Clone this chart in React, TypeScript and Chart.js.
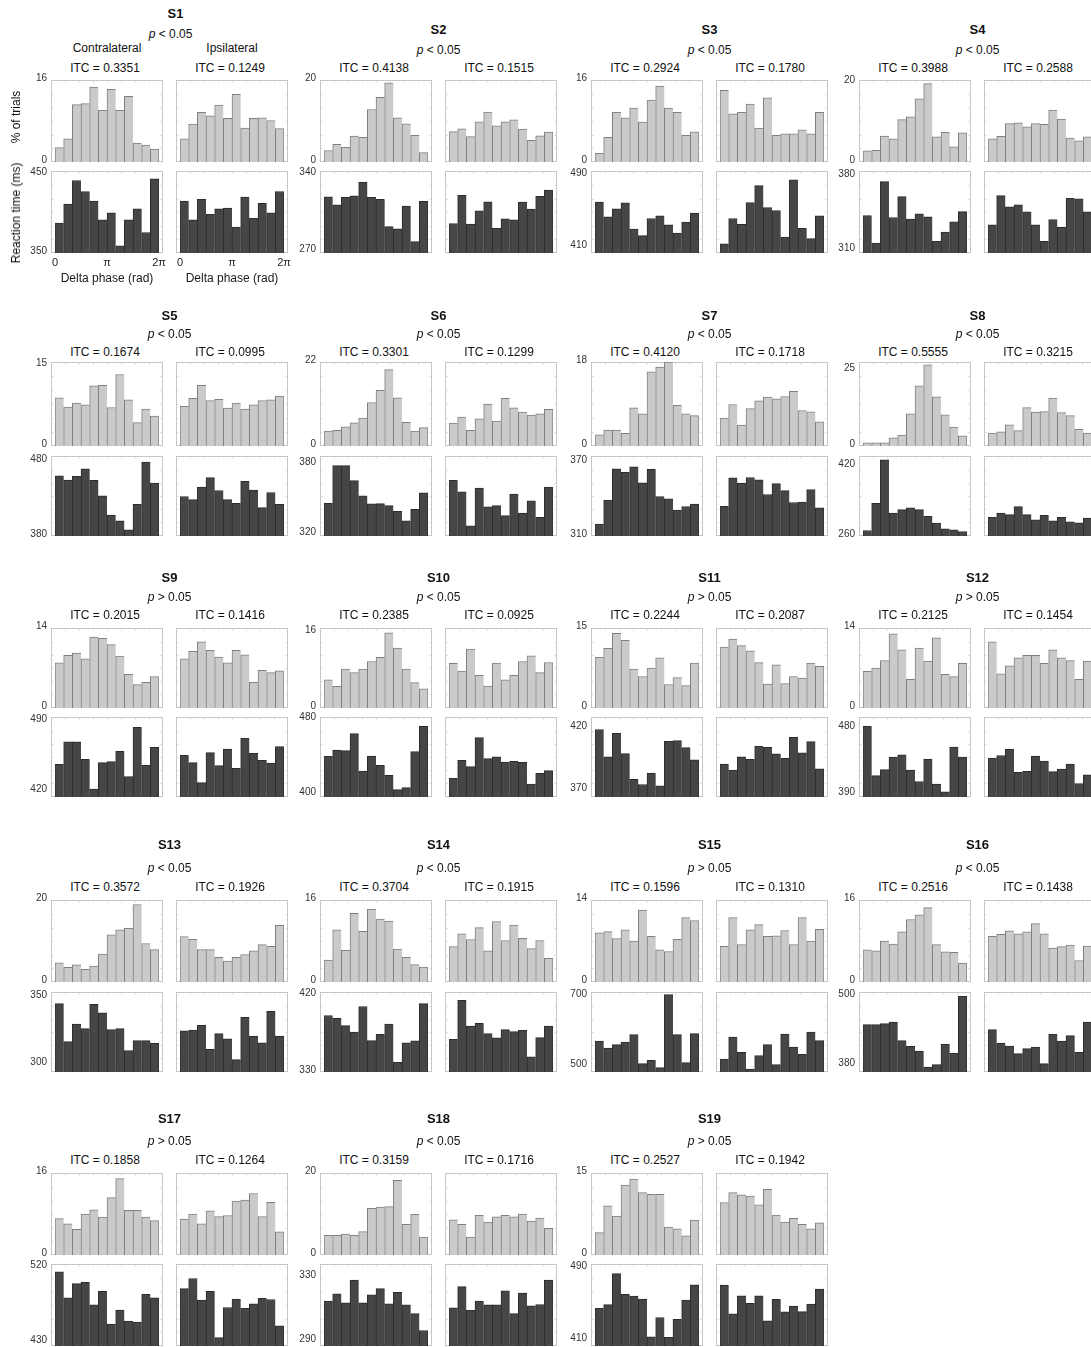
import React, { useEffect, useRef } from 'react';
import { Chart, registerables } from 'chart.js';

Chart.register(...registerables);

const FONT = '"Liberation Sans", Arial, Helvetica, sans-serif';
Chart.defaults.font.family = FONT;

// ---- data ----------------------------------------------------------------

// twelve equal delta-phase bins covering 0 .. 2π
const phaseBins = ['1', '2', '3', '4', '5', '6', '7', '8', '9', '10', '11', '12'];
const phaseTickLabels = ['0', 'π', '2π'];

const subjects = ['S1', 'S2', 'S3', 'S4', 'S5', 'S6', 'S7', 'S8', 'S9', 'S10',
  'S11', 'S12', 'S13', 'S14', 'S15', 'S16', 'S17', 'S18', 'S19'];

const pSigns = ['<', '<', '<', '<', '<', '<', '<', '<', '>', '<', '>', '>', '<', '<', '>', '<', '>', '<', '>'];

const itcContra = [0.3351, 0.4138, 0.2924, 0.3988, 0.1674, 0.3301, 0.4120, 0.5555, 0.2015, 0.2385,
  0.2244, 0.2125, 0.3572, 0.3704, 0.1596, 0.2516, 0.1858, 0.3159, 0.2527];
const itcIpsi = [0.1249, 0.1515, 0.1780, 0.2588, 0.0995, 0.1299, 0.1718, 0.3215, 0.1416, 0.0925,
  0.2087, 0.1454, 0.1926, 0.1915, 0.1310, 0.1438, 0.1264, 0.1716, 0.1942];

// % of trials axes: labelled maximum and top of the plotted range
const trialTickMax = [16, 20, 16, 20, 15, 22, 18, 25, 14, 16, 15, 14, 20, 16, 14, 16, 16, 20, 15];
const trialAxisMax = [16, 20, 16, 20.5, 15.5, 22, 18, 27.4, 14, 16.7, 15, 14, 20, 16, 14, 16, 16, 20, 15];

// reaction-time axes: labelled ticks and plotted range (ms)
const rtTickLow = [350, 270, 410, 310, 380, 320, 310, 260, 420, 400, 370, 390, 300, 330, 500, 380, 430, 290, 410];
const rtTickHigh = [450, 340, 490, 380, 480, 380, 370, 420, 490, 480, 420, 480, 350, 420, 700, 500, 520, 330, 490];
const rtAxisLow = [350, 268.2, 403, 306.5, 380, 317.7, 310, 260, 414.1, 396.1, 364.5, 385, 293.5, 330, 482.9, 366.5, 424.3, 287, 403.4];
const rtAxisHigh = [454, 342.7, 494, 384.1, 486.3, 387, 375, 441, 493.3, 481.4, 428.4, 494.4, 353.5, 422.7, 711.4, 507, 522.8, 338.2, 494.4];

// % of trials per phase bin, contralateral
const trialsContra = [
  [2.8, 4.5, 11.2, 11.4, 14.6, 10.1, 14.2, 10.1, 12.8, 3.7, 3.3, 2.5],
  [2.8, 4.3, 3.6, 6.3, 6.0, 12.8, 15.8, 19.3, 10.8, 9.3, 6.5, 2.3],
  [1.7, 4.8, 9.7, 8.6, 10.5, 7.8, 12.1, 14.8, 10.5, 9.7, 5.2, 5.9],
  [2.8, 2.9, 6.5, 5.8, 10.6, 11.3, 15.8, 19.6, 6.3, 7.4, 3.8, 7.3],
  [8.9, 7.2, 7.9, 7.6, 11.1, 11.2, 7.1, 13.2, 8.5, 4.3, 6.8, 5.5],
  [3.9, 4.1, 5.0, 6.1, 7.3, 11.4, 14.6, 20.0, 12.6, 6.2, 3.9, 4.8],
  [2.4, 3.4, 3.4, 2.7, 8.2, 6.9, 15.9, 16.9, 18.0, 8.7, 6.9, 6.5],
  [1.0, 1.0, 1.0, 2.7, 3.6, 10.5, 19.6, 26.5, 16.0, 10.2, 6.2, 3.3],
  [7.9, 9.2, 9.6, 8.6, 12.4, 12.2, 11.1, 9.1, 5.9, 4.1, 4.5, 5.5],
  [5.9, 4.5, 8.1, 7.4, 8.1, 9.7, 10.6, 15.7, 12.5, 8.1, 5.3, 4.0],
  [9.5, 11.2, 14.0, 12.7, 7.3, 5.9, 7.5, 9.4, 4.4, 5.7, 4.2, 8.4],
  [6.4, 7.0, 8.3, 13.0, 10.2, 5.0, 10.5, 8.2, 12.3, 5.9, 5.5, 7.8],
  [4.7, 3.6, 4.2, 3.1, 3.9, 6.8, 11.5, 12.7, 13.1, 18.9, 9.4, 7.9],
  [4.3, 10.2, 6.2, 13.4, 9.9, 14.2, 12.3, 11.9, 6.4, 4.8, 3.4, 2.9],
  [8.4, 8.6, 7.4, 8.9, 7.0, 12.3, 7.8, 5.5, 5.2, 7.3, 11.0, 10.5],
  [6.3, 6.1, 8.0, 7.4, 9.8, 12.2, 13.1, 14.5, 7.3, 5.9, 5.8, 3.7],
  [7.1, 6.1, 5.0, 8.0, 8.8, 7.4, 11.2, 14.9, 8.7, 8.7, 7.4, 6.7],
  [4.8, 4.8, 5.1, 4.8, 5.7, 11.4, 11.7, 11.8, 18.2, 7.5, 9.9, 4.4],
  [4.1, 9.0, 7.1, 12.8, 13.9, 11.4, 11.1, 11.1, 5.1, 4.8, 3.5, 6.4],
];

// % of trials per phase bin, ipsilateral
const trialsIpsi = [
  [4.5, 7.4, 9.7, 9.0, 11.1, 8.5, 13.2, 6.6, 8.5, 8.6, 8.1, 6.5],
  [7.4, 8.1, 6.2, 9.8, 12.2, 8.8, 9.8, 10.3, 8.0, 5.3, 6.4, 7.3],
  [14.0, 9.4, 9.7, 11.3, 6.6, 12.5, 5.2, 5.5, 5.5, 6.3, 5.5, 9.7],
  [5.8, 6.4, 9.6, 9.8, 8.8, 9.6, 9.4, 13.0, 10.7, 6.0, 5.3, 6.3],
  [7.3, 8.8, 11.2, 8.4, 8.6, 7.0, 7.9, 6.8, 7.6, 8.4, 8.5, 9.2],
  [6.0, 7.6, 4.1, 7.1, 11.0, 6.5, 12.5, 10.0, 8.9, 8.1, 8.4, 9.6],
  [6.0, 8.9, 4.5, 8.0, 9.7, 10.5, 10.1, 10.6, 11.7, 7.6, 7.3, 5.2],
  [4.2, 4.6, 6.9, 5.0, 12.5, 11.1, 11.2, 15.6, 10.9, 9.9, 5.4, 4.2],
  [8.6, 9.9, 11.6, 10.1, 8.9, 7.9, 10.1, 9.3, 4.5, 6.6, 6.2, 6.5],
  [9.3, 7.7, 12.3, 6.8, 4.6, 9.4, 5.9, 6.8, 9.7, 10.9, 7.4, 9.5],
  [11.4, 12.9, 11.7, 10.7, 8.5, 4.5, 8.1, 4.6, 5.9, 5.6, 8.4, 7.8],
  [11.6, 6.0, 7.4, 8.8, 9.2, 9.2, 7.8, 10.2, 8.8, 8.3, 5.0, 8.2],
  [11.1, 10.4, 7.9, 7.9, 6.0, 5.1, 6.0, 6.7, 7.6, 9.1, 8.7, 13.8],
  [6.9, 9.4, 8.3, 10.6, 6.1, 11.8, 8.1, 11.1, 8.5, 6.5, 8.1, 4.6],
  [6.1, 11.0, 6.4, 8.9, 9.8, 7.8, 7.9, 8.8, 6.4, 11.0, 7.0, 9.0],
  [8.9, 9.3, 10.0, 9.4, 9.8, 11.4, 9.4, 6.6, 6.9, 7.2, 4.2, 7.0],
  [7.0, 8.0, 6.1, 8.6, 7.5, 7.7, 10.5, 10.7, 12.0, 7.5, 10.3, 4.5],
  [8.6, 7.5, 4.4, 9.7, 8.0, 9.3, 9.7, 9.3, 10.0, 8.3, 9.0, 6.5],
  [9.6, 11.4, 11.0, 10.8, 9.2, 12.0, 7.3, 6.0, 6.7, 5.6, 4.8, 5.9],
];

// mean reaction time (ms) per phase bin, contralateral
const rtContra = [
  [388, 412, 442, 428, 416, 392, 401, 359, 392, 406, 376, 444],
  [319.3, 312.0, 318.7, 320.2, 332.7, 318.7, 316.9, 292.2, 290.1, 310.8, 278.5, 315.1],
  [459.4, 443.2, 452.0, 458.7, 429.5, 422.2, 441.3, 444.3, 434.3, 425.1, 437.3, 447.2],
  [342.0, 315.9, 374.0, 340.1, 359.9, 338.5, 343.5, 340.7, 317.5, 326.3, 336.0, 345.7],
  [459.8, 454.4, 459.4, 469.2, 454.0, 433.4, 407.8, 400.2, 388.1, 422.2, 478.2, 450.4],
  [346.1, 378.6, 378.6, 365.7, 352.5, 345.5, 345.8, 344.0, 339.1, 330.9, 340.8, 355.2],
  [319.6, 339.1, 364.5, 361.8, 366.1, 353.2, 364.2, 342.1, 340.2, 331.0, 334.0, 335.9],
  [272.4, 334.1, 432.4, 312.0, 319.7, 323.5, 319.7, 304.4, 289.2, 276.2, 274.0, 270.1],
  [446.4, 468.6, 468.6, 451.4, 422.0, 448.1, 449.1, 459.3, 434.2, 483.1, 445.5, 463.3],
  [439.5, 446.2, 445.5, 463.7, 423.8, 439.8, 429.9, 419.2, 403.9, 406.1, 444.5, 471.5],
  [418.4, 396.6, 415.3, 399.2, 378.7, 374.5, 383.7, 373.4, 409.0, 409.5, 404.0, 394.2],
  [481.8, 414.3, 422.4, 439.5, 442.6, 421.9, 406.2, 436.8, 402.6, 392.2, 453.4, 439.5],
  [344.8, 316.3, 329.5, 326.0, 344.3, 337.8, 325.3, 326.0, 309.5, 317.0, 317.0, 315.0],
  [395.5, 392.1, 383.7, 376.4, 405.9, 366.4, 373.7, 385.6, 341.1, 363.7, 366.0, 409.3],
  [571.5, 551.5, 561.0, 568.6, 589.6, 506.7, 516.2, 495.3, 703.8, 589.6, 509.6, 592.4],
  [449.6, 449.6, 451.4, 454.3, 421.5, 411.6, 403.4, 375.3, 379.4, 415.7, 399.3, 499.4],
  [513.5, 482.3, 499.3, 500.9, 473.8, 490.0, 450.6, 467.3, 454.3, 453.1, 486.3, 482.3],
  [315.0, 319.6, 314.0, 328.1, 314.0, 319.0, 322.8, 313.3, 320.5, 312.7, 307.2, 296.7],
  [445.2, 449.3, 483.8, 460.7, 458.8, 455.5, 413.7, 435.0, 413.0, 433.1, 454.4, 471.3],
];

// mean reaction time (ms) per phase bin, ipsilateral
const rtIpsi = [
  [416, 392, 418, 399, 406, 407, 383, 421, 394, 413, 401, 428],
  [295.0, 320.5, 294.4, 306.5, 314.8, 290.7, 299.2, 298.3, 314.5, 308.1, 319.6, 325.4],
  [413.3, 441.3, 434.7, 459.0, 477.8, 453.5, 450.2, 420.7, 484.1, 430.3, 418.9, 444.3],
  [333.2, 360.8, 350.1, 352.0, 345.4, 333.2, 317.5, 338.2, 331.0, 358.3, 357.7, 345.4],
  [432.5, 428.4, 445.0, 457.6, 440.5, 428.4, 423.5, 452.6, 441.0, 417.7, 437.8, 422.2],
  [366.0, 356.0, 326.5, 359.3, 342.9, 344.0, 335.3, 354.0, 337.6, 348.1, 333.8, 360.1],
  [334.2, 357.2, 352.9, 357.5, 355.6, 343.7, 352.6, 346.9, 337.2, 337.5, 347.8, 332.9],
  [302.1, 312.0, 308.2, 326.5, 308.2, 296.8, 306.7, 294.5, 302.1, 292.2, 290.0, 300.6],
  [455.4, 448.1, 428.3, 458.0, 445.1, 461.6, 442.5, 472.2, 457.3, 450.4, 447.8, 463.9],
  [416.0, 435.2, 428.5, 459.4, 437.0, 438.8, 433.4, 434.1, 433.1, 410.0, 421.3, 424.2],
  [390.8, 386.1, 396.6, 394.5, 405.0, 404.2, 399.0, 395.3, 412.1, 399.8, 408.7, 387.1],
  [438.1, 441.7, 450.3, 418.8, 420.1, 440.8, 434.0, 419.7, 423.3, 430.0, 403.5, 415.2],
  [324.3, 325.0, 328.5, 310.5, 322.3, 318.3, 302.8, 334.5, 320.5, 315.3, 339.0, 320.5],
  [368.0, 413.1, 383.3, 386.3, 374.5, 369.5, 379.1, 376.8, 378.3, 347.7, 369.9, 383.3],
  [520.0, 582.9, 539.1, 491.5, 529.6, 561.0, 503.9, 591.5, 554.3, 533.4, 597.2, 572.4],
  [440.9, 417.4, 412.2, 398.7, 407.5, 410.4, 381.1, 432.7, 421.0, 430.3, 401.0, 454.3],
  [493.2, 505.4, 479.4, 490.0, 434.4, 470.5, 480.6, 469.7, 475.0, 481.5, 480.2, 448.6],
  [310.8, 324.1, 309.3, 315.0, 312.7, 312.7, 321.5, 307.2, 320.1, 312.1, 312.9, 328.1],
  [470.9, 439.0, 459.2, 450.7, 459.2, 431.3, 455.1, 441.2, 447.8, 441.6, 450.0, 466.5],
];

// ---- layout ----------------------------------------------------------------

const COL_LEFT = [51, 320, 591, 859];
const FRAME_W = 112;
const RIGHT_DX = 125;

// per subject row: frame tops/heights of the % panels and the RT panels
const ROW_TOP = [80, 362, 628, 900, 1173];
const TOP_H = [82, 84, 80, 82, 82];
const ROW_BOTTOM = [171, 456, 717, 992, 1264];
const BOTTOM_H = [82, 80, 80, 80, 82];
// header text offsets (relative to the % panel frame top)
const TITLE_DY = [-51, -47, -51, -56, -55];
const P_DY = [-30, -28, -31, -32, -32];
const ITC_DY = [-12, -10, -13, -13, -13];

// canvas margins around each frame (room for tick labels)
const PAD_L = 40;
const PAD_T = 18;
const PAD_B = 18;
const PAD_R = 8;
const INSET = 4;
const PHASE_AXIS_H = 33;

const TRIAL_FILL = '#cacaca';
const TRIAL_EDGE = '#808080';
const RT_FILL = '#464646';
const RT_EDGE = '#2c2c2c';

// light Mathematica-style frame with small inner tick marks
const framePlugin = {
  id: 'panelFrame',
  beforeDatasetsDraw(chart: any) {
    const { ctx, chartArea: a } = chart;
    const l = Math.round(a.left - INSET) + 0.5;
    const r = Math.round(a.right + INSET) - 0.5;
    const t = Math.round(a.top) + 0.5;
    const b = Math.round(a.bottom) - 0.5;
    ctx.save();
    ctx.lineWidth = 1;
    ctx.strokeStyle = '#c6c6c6';
    ctx.strokeRect(l, t, r - l, b - t);
    ctx.strokeStyle = '#d6d6d6';
    ctx.beginPath();
    for (let i = 1; i < 8; i++) {
      const x = Math.round(l + ((r - l) * i) / 8) + 0.5;
      ctx.moveTo(x, t); ctx.lineTo(x, t + 2);
      ctx.moveTo(x, b); ctx.lineTo(x, b - 2);
    }
    for (let i = 1; i < 6; i++) {
      const y = Math.round(t + ((b - t) * i) / 6) + 0.5;
      ctx.moveTo(l, y); ctx.lineTo(l + 2, y);
      ctx.moveTo(r, y); ctx.lineTo(r - 2, y);
    }
    ctx.stroke();
    ctx.restore();
  },
};

type PanelProps = {
  x: number;
  y: number;
  h: number;
  values: number[];
  min: number;
  max: number;
  ticks: number[];
  showTicks: boolean;
  fill: string;
  edge: string;
  phaseAxis?: boolean;
};

function Panel(p: PanelProps) {
  const ref = useRef<HTMLCanvasElement>(null);
  const padB = p.phaseAxis ? PHASE_AXIS_H : PAD_B;
  const cw = FRAME_W + PAD_L + PAD_R;
  const ch = p.h + PAD_T + padB;

  useEffect(() => {
    const scales: any = {
      x: { display: false, grid: { display: false } },
      y: {
        min: p.min,
        max: p.max,
        afterBuildTicks: (s: any) => {
          s.ticks = p.ticks.map((v) => ({ value: v }));
        },
        afterFit: (s: any) => {
          s.width = PAD_L + INSET;
        },
        grid: { display: false, drawTicks: false },
        border: { display: false },
        ticks: {
          display: p.showTicks,
          autoSkip: false,
          padding: 8,
          labelOffset: -1.5,
          color: '#333',
          font: { size: 10, family: FONT },
          callback: (v: any) => String(v),
        },
      },
    };
    if (p.phaseAxis) {
      scales.phase = {
        type: 'linear',
        position: 'bottom',
        offset: false,
        min: 0,
        max: 2 * Math.PI,
        afterBuildTicks: (s: any) => {
          s.ticks = [0, Math.PI, 2 * Math.PI].map((v) => ({ value: v }));
        },
        afterFit: (s: any) => {
          s.height = PHASE_AXIS_H;
        },
        grid: { display: false, drawTicks: false, offset: false },
        border: { display: false },
        ticks: {
          autoSkip: false,
          maxRotation: 0,
          minRotation: 0,
          padding: 3,
          color: '#222',
          font: { size: 11, family: FONT },
          callback: (_v: any, i: number) => phaseTickLabels[i],
        },
        title: {
          display: true,
          text: 'Delta phase (rad)',
          color: '#1a1a1a',
          font: { size: 12, family: FONT },
          padding: { top: 0, bottom: 0 },
        },
      };
    }
    const last = p.values.length - 1;
    const chart = new Chart(ref.current as HTMLCanvasElement, {
      type: 'bar',
      data: {
        labels: phaseBins,
        datasets: [
          {
            data: p.values,
            backgroundColor: p.fill,
            borderColor: p.edge,
            borderWidth: (c: any) =>
              c.dataIndex === last
                ? { top: 1, left: 1, right: 1, bottom: 0 }
                : { top: 1, left: 1, right: 0, bottom: 0 },
            borderSkipped: false,
            barPercentage: 1,
            categoryPercentage: 1,
          } as any,
        ],
      },
      options: {
        responsive: false,
        animation: false,
        devicePixelRatio: 1,
        events: [],
        layout: {
          padding: { left: 0, top: PAD_T, right: PAD_R + INSET, bottom: p.phaseAxis ? 0 : padB },
        },
        plugins: { legend: { display: false }, tooltip: { enabled: false } },
        scales,
      } as any,
      plugins: [framePlugin],
    });
    return () => chart.destroy();
  }, []);

  return (
    <canvas
      ref={ref}
      width={cw}
      height={ch}
      style={{ position: 'absolute', left: p.x - PAD_L, top: p.y - PAD_T, width: cw, height: ch }}
    />
  );
}

const textBase: React.CSSProperties = {
  position: 'absolute',
  transform: 'translate(-50%, -50%)',
  whiteSpace: 'nowrap',
  lineHeight: 1,
};

function Label(props: { x: number; y: number; size: number; bold?: boolean; children: React.ReactNode }) {
  return (
    <div
      style={{
        ...textBase,
        left: props.x,
        top: props.y,
        fontSize: props.size,
        fontWeight: props.bold ? 'bold' : 'normal',
      }}
    >
      {props.children}
    </div>
  );
}

function SubjectBlock({ i }: { i: number }) {
  const row = Math.floor(i / 4);
  const left = COL_LEFT[i % 4];
  const top = ROW_TOP[row];
  const rightX = left + RIGHT_DX;
  const center = left + (RIGHT_DX + FRAME_W) / 2;
  const first = i === 0;
  const bottomY = ROW_BOTTOM[row];
  return (
    <>
      <Label x={first ? center + 6 : center} y={first ? 13 : top + TITLE_DY[row]} size={13} bold>
        {subjects[i]}
      </Label>
      <Label x={first ? center + 1 : center} y={first ? 34 : top + P_DY[row]} size={12}>
        <span style={{ fontStyle: 'italic' }}>p</span> {pSigns[i]} 0.05
      </Label>
      {first && (
        <>
          <Label x={left + FRAME_W / 2} y={48} size={12}>Contralateral</Label>
          <Label x={rightX + FRAME_W / 2} y={48} size={12}>Ipsilateral</Label>
        </>
      )}
      <Label x={left + FRAME_W / 2 - 2} y={top + ITC_DY[row]} size={12}>
        ITC = {itcContra[i].toFixed(4)}
      </Label>
      <Label x={rightX + FRAME_W / 2 - 2} y={top + ITC_DY[row]} size={12}>
        ITC = {itcIpsi[i].toFixed(4)}
      </Label>

      <Panel x={left} y={top} h={TOP_H[row]} values={trialsContra[i]} min={0} max={trialAxisMax[i]}
        ticks={[0, trialTickMax[i]]} showTicks fill={TRIAL_FILL} edge={TRIAL_EDGE} />
      <Panel x={rightX} y={top} h={TOP_H[row]} values={trialsIpsi[i]} min={0} max={trialAxisMax[i]}
        ticks={[0, trialTickMax[i]]} showTicks={false} fill={TRIAL_FILL} edge={TRIAL_EDGE} />
      <Panel x={left} y={bottomY} h={BOTTOM_H[row]} values={rtContra[i]} min={rtAxisLow[i]} max={rtAxisHigh[i]}
        ticks={[rtTickLow[i], rtTickHigh[i]]} showTicks fill={RT_FILL} edge={RT_EDGE} phaseAxis={first} />
      <Panel x={rightX} y={bottomY} h={BOTTOM_H[row]} values={rtIpsi[i]} min={rtAxisLow[i]} max={rtAxisHigh[i]}
        ticks={[rtTickLow[i], rtTickHigh[i]]} showTicks={false} fill={RT_FILL} edge={RT_EDGE} phaseAxis={first} />
    </>
  );
}

export default function App() {
  return (
    <div
      style={{
        position: 'fixed',
        left: 0,
        top: 0,
        width: 1091,
        height: 1347,
        overflow: 'hidden',
        background: '#ffffff',
        color: '#111',
        fontFamily: FONT,
      }}
    >
      {subjects.map((s, i) => (
        <SubjectBlock key={s} i={i} />
      ))}
      <div style={{ ...textBase, left: 16, top: 117, fontSize: 12, transform: 'translate(-50%, -50%) rotate(-90deg)' }}>
        % of trials
      </div>
      <div style={{ ...textBase, left: 16, top: 213, fontSize: 12, transform: 'translate(-50%, -50%) rotate(-90deg)' }}>
        Reaction time (ms)
      </div>
    </div>
  );
}
